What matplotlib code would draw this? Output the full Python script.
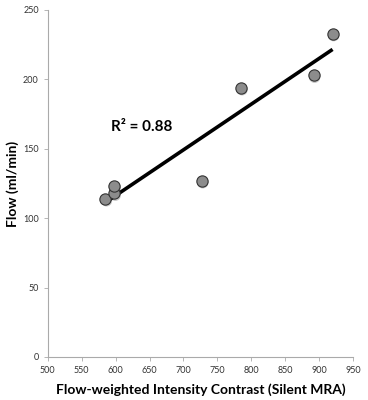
import numpy as np
import matplotlib.pyplot as plt

plt.rcParams['font.family'] = ['Lato', 'DejaVu Sans']

# values
contrast = np.array([585, 598, 598, 727, 785, 892, 920])
flow = np.array([114, 118, 123, 127, 194, 203, 233])
r2_text = 'R² = 0.88'

xticks = np.arange(500, 951, 50)
yticks = np.arange(0, 251, 50)

fig = plt.figure(figsize=(3.68, 4.0), dpi=100)
ax = fig.add_axes([0.130, 0.1075, 0.829, 0.8675])

# trendline from a least squares fit
p = np.polyfit(contrast, flow, 1)
xx = np.linspace(contrast.min(), contrast.max(), 100)
ax.plot(xx, np.polyval(p, xx), color='black', lw=2.6, zorder=3,
        solid_capstyle='butt')

# soft shadow then markers
ax.scatter(contrast + 1.5, flow - 1.5, s=66, color='#c8c8c8', edgecolors='none', zorder=2)
ax.scatter(contrast, flow, s=66, color='#8c8c8c', edgecolors='#333333',
           linewidths=0.8, zorder=4)

ax.text(593, 166, r2_text, fontsize=11, fontweight='bold', ha='left', va='center')

ax.set_xlim(500, 950)
ax.set_ylim(0, 250)
ax.set_xticks(xticks)
ax.set_yticks(yticks)
ax.tick_params(labelsize=6.5, colors='#333333', length=3, width=0.6, direction='out')
ax.tick_params(axis='both', color='#aaaaaa')
for s in ['top', 'right']:
    ax.spines[s].set_visible(False)
for s in ['left', 'bottom']:
    ax.spines[s].set_color('#aaaaaa')
    ax.spines[s].set_linewidth(0.8)

ax.set_xlabel('Flow-weighted Intensity Contrast (Silent MRA)', fontsize=10,
              fontweight='bold', labelpad=6)
ax.set_ylabel('Flow (ml/min)', fontsize=10, fontweight='bold', labelpad=3)

fig.savefig('out.png', dpi=100)
